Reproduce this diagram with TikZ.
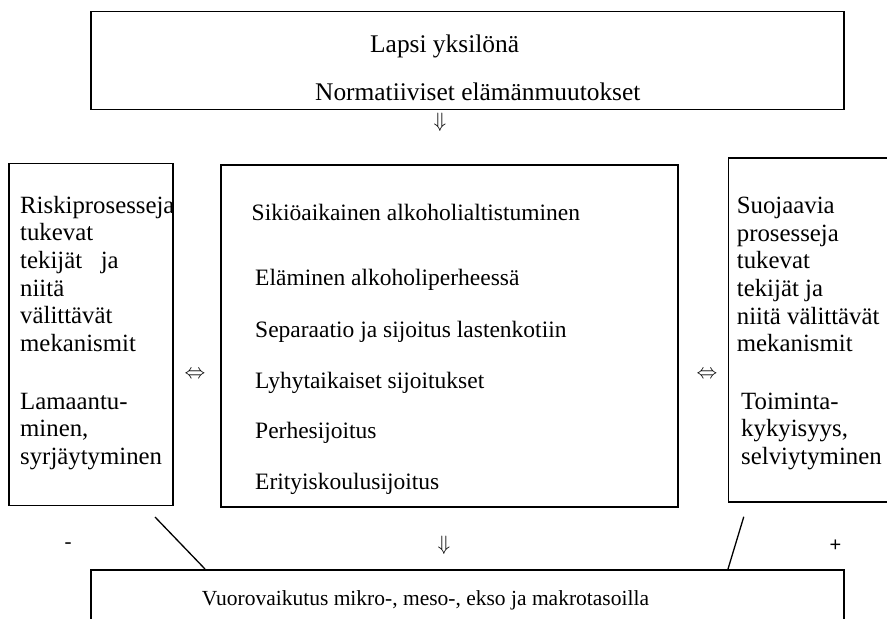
\documentclass[tikz,border=0pt]{standalone}
\usepackage{fontspec}
\setmainfont{Liberation Serif}
\setsansfont{Liberation Sans}
\begin{document}
\begin{tikzpicture}[x=1pt,y=-1pt,
  frame/.style={draw, line width=1.5pt, inner sep=0pt, anchor=north west},
  toptxt/.style={font=\fontsize{25.4}{28}\selectfont, inner sep=0pt, anchor=base west},
  midtxt/.style={font=\fontsize{23.5}{28}\selectfont, inner sep=0pt, anchor=base west},
  bottxt/.style={font=\fontsize{21.5}{28}\selectfont, inner sep=0pt, anchor=base west},
  sidetxt/.style={font=\fontsize{24.8}{27.6}\selectfont, inner sep=0pt, anchor=north west, align=left},
  sym/.style={font=\fontsize{21}{21}\selectfont, inner sep=0pt},
  link/.style={line width=1.3pt}]
\useasboundingbox (0,0) rectangle (887,619);
\clip (0,0) rectangle (887,619);

% frames
\node[frame, minimum width=753pt, minimum height=98pt]  (top)     at (90,10.7)  {};
\node[frame, minimum width=164pt, minimum height=342pt] (risk)    at (8.3,162.7) {};
\node[frame, minimum width=457pt, minimum height=342pt] (mid)     at (220,164)   {};
\node[frame, minimum width=200pt, minimum height=344pt] (protect) at (727.5,157.3) {};
\node[frame, minimum width=753pt, minimum height=90pt]  (bottom)  at (90,569)    {};

% top frame
\node[toptxt] (lapsi) at (370,52)  {Lapsi yksilönä};
\node[toptxt] (norm)  at (315,100) {Normatiiviset elämänmuutokset};

% left frame
\node[sidetxt] (riskA) at (20,195.8) {Riskiprosesseja\\tukevat\\tekijät\ \ \ ja\\niitä\\välittävät\\mekanismit};
\node[sidetxt] (riskB) at (20,392.6) {Lamaantu-\\minen,\\syrjäytyminen};

% middle frame
\node[midtxt] (m1) at (251.5,220) {Sikiöaikainen alkoholialtistuminen};
\node[midtxt] (m2) at (255,285)   {Eläminen alkoholiperheessä};
\node[midtxt] (m3) at (255,337)   {Separaatio ja sijoitus lastenkotiin};
\node[midtxt] (m4) at (255,388)   {Lyhytaikaiset sijoitukset};
\node[midtxt] (m5) at (255,438.5) {Perhesijoitus};
\node[midtxt] (m6) at (255,489)   {Erityiskoulusijoitus};

% right frame
\node[sidetxt] (protA) at (736.7,197.1) {Suojaavia\\prosesseja\\tukevat\\tekijät ja\\niitä välittävät\\mekanismit};
\node[sidetxt] (protB) at (741,392.6)   {Toiminta-\\kykyisyys,\\selviytyminen};

% bottom frame
\node[bottxt] (vuoro) at (201.7,605) {Vuorovaikutus mikro-, meso-, ekso ja makrotasoilla};

% arrows set as symbols
\node[sym] (d1)  at (440,122) {$\Downarrow$};
\node[sym] (d2)  at (444,545) {$\Downarrow$};
\node[sym] (lr1) at (195,375) {$\Leftrightarrow$};
\node[sym] (lr2) at (707,375) {$\Leftrightarrow$};

% signs
\node[sym] (minus) at (68,546) {-};
\node[sym, font=\sffamily\fontsize{20}{20}\selectfont] (plus) at (835.5,546) {+};

% slanted links to the bottom frame
\coordinate (ls) at (155,517);
\coordinate (le) at (205,569);
\coordinate (rs) at (743.8,516.7);
\coordinate (re) at (728,569);
\draw[link] (ls) -- (le);
\draw[link] (rs) -- (re);
\end{tikzpicture}
\end{document}
